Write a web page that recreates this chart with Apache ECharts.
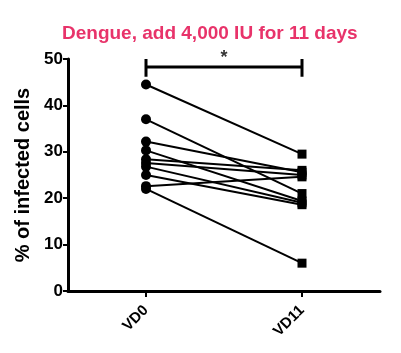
<!DOCTYPE html>
<html><head><meta charset="utf-8">
<script src="https://cdn.jsdelivr.net/npm/echarts@6/dist/echarts.min.js"></script>
<style>html,body{margin:0;padding:0;background:#fff}#c{width:401px;height:353px}</style>
</head><body><div id="c"></div>
<script>
var categories = ['VD0', 'VD11'];
var vd0 = [44.5, 37.0, 32.2, 30.3, 28.4, 27.6, 26.8, 25.0, 22.6, 22.0];
var vd11 = [29.5, 21.0, 25.6, 19.4, 26.0, 25.0, 19.0, 18.6, 24.6, 6.0];
var yTicks = [0, 10, 20, 30, 40, 50];
var bracketY = 48.3;
var bracketTop = 50.0;
var bracketLow = 46.2;
var starPos = [0.5, 48.3];
var starLabel = '*';

var series = [];
for (var i = 0; i < vd0.length; i++) {
  series.push({
    type: 'line',
    data: [
      {value: vd0[i], symbol: 'circle', symbolSize: 10},
      {value: vd11[i], symbol: 'rect', symbolSize: 9}
    ],
    lineStyle: {color: '#000', width: 2},
    itemStyle: {color: '#000'},
    silent: true, animation: false, z: 3
  });
}
function seg(data) {
  return {
    type: 'line', data: data, symbol: 'none',
    lineStyle: {color: '#000', width: 3, cap: 'butt'},
    animation: false, silent: true
  };
}
series.push(seg([[categories[0], bracketTop], [categories[0], bracketLow]]));
series.push(seg([[categories[1], bracketTop], [categories[1], bracketLow]]));
series.push(seg([[categories[0], bracketY], [categories[1], bracketY]]));
series.push({
  type: 'scatter', xAxisIndex: 1, data: [starPos], symbolSize: 1,
  itemStyle: {color: 'rgba(0,0,0,0)'}, silent: true,
  label: {show: true, position: 'top', distance: -1, formatter: starLabel, fontSize: 18, fontWeight: 'bold', color: '#000', fontFamily: 'Liberation Sans'}
});

var chart = echarts.init(document.getElementById('c'), null, {renderer: 'canvas'});
chart.setOption({
  animation: false,
  title: {
    text: 'Dengue, add 4,000 IU for 11 days',
    left: 57, top: 19,
    textStyle: {color: '#e8336a', fontSize: 19, fontWeight: 'bold', fontFamily: 'Liberation Sans'}
  },
  grid: {left: 68, right: 21, top: 59, bottom: 62, containLabel: false},
  xAxis: [{
    type: 'category', data: categories, boundaryGap: true,
    axisLine: {onZero: false, lineStyle: {color: '#000', width: 3}},
    axisTick: {show: true, alignWithLabel: true, length: 6, lineStyle: {width: 2, color: '#000'}},
    axisLabel: {rotate: 45, color: '#000', fontSize: 15, fontWeight: 'bold', fontFamily: 'Liberation Sans', margin: 17},
    splitLine: {show: false}
  }, {
    type: 'value', min: -0.5, max: 1.5, show: false
  }],
  yAxis: {
    type: 'value', min: yTicks[0], max: yTicks[yTicks.length - 1], interval: 10,
    name: '% of infected cells', nameLocation: 'middle', nameGap: 31,
    nameTextStyle: {color: '#000', fontSize: 20, fontWeight: 'bold', fontFamily: 'Liberation Sans'},
    axisLine: {show: true, onZero: false, lineStyle: {color: '#000', width: 3}},
    axisTick: {show: true, length: 5, lineStyle: {width: 2, color: '#000'}},
    axisLabel: {color: '#000', fontSize: 17, fontWeight: 'bold', fontFamily: 'Liberation Sans', margin: 5},
    splitLine: {show: false}
  },
  series: series
});
</script></body></html>
